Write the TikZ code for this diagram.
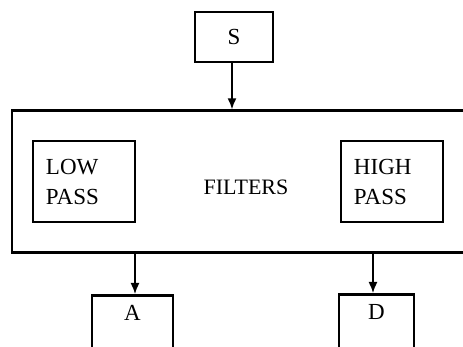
\documentclass[tikz,border=0pt]{standalone}
\usepackage{fontspec}
\setmainfont{Liberation Serif}
\usepackage{tikz}
\usetikzlibrary{positioning, arrows.meta}

\begin{document}
\begin{tikzpicture}[x=0.5pt, y=-0.5pt, >={Latex[length=5.5pt, width=4.5pt]}, node distance=10pt,
    blk/.style={draw, rectangle, line width=1.3pt, font=\fontsize{11.5}{15}\selectfont},
    passblk/.style={blk, minimum width=51pt, minimum height=40.5pt, text width=38pt, inner xsep=6pt, align=left},
    outblk/.style={blk, anchor=north, text depth=30pt, inner ysep=5pt},
    flow/.style={->, line width=0.75pt}]
    \path[use as bounding box, clip] (0,0) rectangle (463,347);

    % Main components
    \node[blk, minimum width=39pt, minimum height=25pt] (s) at (234,37) {S};

    \node[draw, line width=1.3pt, minimum width=234pt, minimum height=71pt, below=23pt of s, xshift=6pt] (bank) {};

    \node[passblk, right=10.5pt of bank.west] (lowp) {LOW\\PASS};

    \node[passblk, left=18.5pt of bank.east] (highp) {HIGH\\PASS};

    \node[font=\fontsize{11}{13}\selectfont, yshift=-3pt] (filt) at (bank.center) {FILTERS};

    \node[outblk, minimum width=40.5pt] (a) at (132.5,294) {A};

    \node[outblk, minimum width=37.5pt] (d) at (376.5,293) {D};

    % Connections
    \draw[flow] ([xshift=-1pt]s.south) -- ([xshift=-1pt]s.south |- bank.north);
    \draw[flow] ([xshift=1.25pt]a.north |- bank.south) -- ([xshift=1.25pt]a.north);
    \draw[flow] ([xshift=-1.75pt]d.north |- bank.south) -- ([xshift=-1.75pt]d.north);

\end{tikzpicture}
\end{document}
